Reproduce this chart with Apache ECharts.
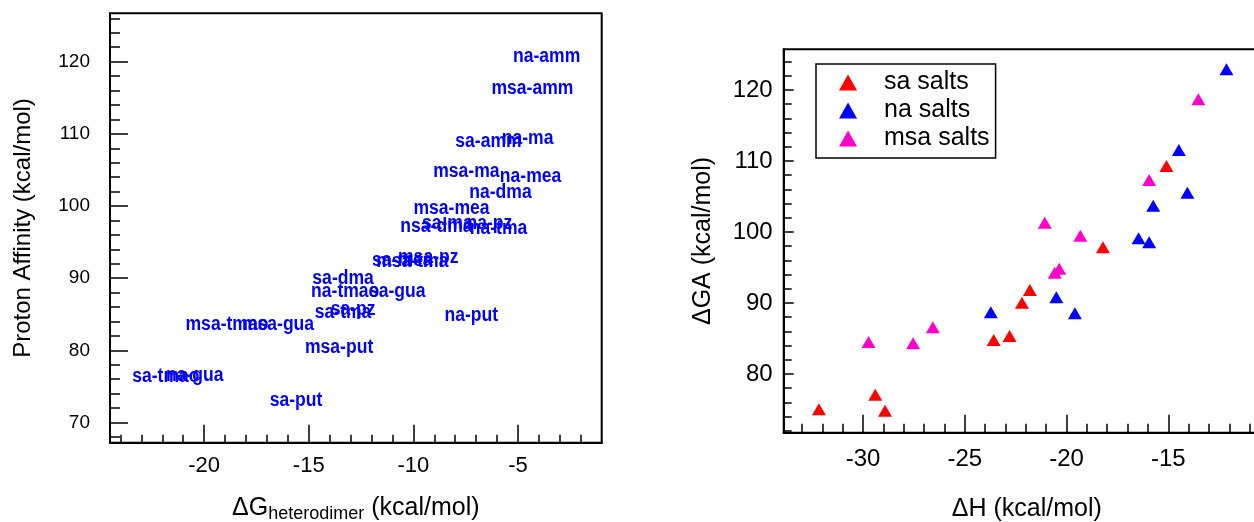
<!DOCTYPE html>
<html>
<head>
<meta charset="utf-8">
<script src="https://cdn.jsdelivr.net/npm/echarts@6/dist/echarts.min.js"></script>
<style>
  body { margin: 0; background: #fff; }
  #main { width: 1254px; height: 522px; }
</style>
</head>
<body>
<div id="main"></div>
<script>
// left panel: proton affinity vs heterodimer formation free energy (text labels only)
var leftNames = ['na-amm', 'msa-amm', 'sa-amm', 'na-ma', 'msa-ma', 'na-mea', 'na-dma', 'msa-mea',
  'nsa-dma', 'sa-ma', 'na-pz', 'na-tma', 'msa-pz', 'sa-mea', 'msa-tma', 'sa-dma', 'na-tmao',
  'sa-gua', 'sa-pz', 'sa-tma', 'na-put', 'msa-tmao', 'msa-gua', 'msa-put', 'sa-tmao', 'na-gua', 'sa-put'];
var leftX = [-3.63, -4.31, -6.41, -4.54, -7.47, -4.40, -5.84, -8.18,
  -8.90, -8.38, -6.37, -5.93, -9.29, -10.53, -10.05, -13.36, -13.26,
  -10.77, -12.88, -13.36, -7.23, -18.91, -16.47, -13.55, -21.83, -20.45, -15.61];
var leftY = [120.65, 116.22, 108.88, 109.29, 104.72, 104.03, 101.81, 99.6,
  97.1, 97.52, 97.52, 96.83, 92.81, 92.4, 92.26, 89.9, 88.1,
  88.1, 85.61, 85.19, 84.78, 83.53, 83.53, 80.35, 76.33, 76.47, 73.0];

var leftXTicks = [-20, -15, -10, -5];
var leftXMinor = [-24, -23, -22, -21, -19, -18, -17, -16, -14, -13, -12, -11, -9, -8, -7, -6, -4, -3, -2];
var leftYTicks = [70, 80, 90, 100, 110, 120];
var leftYMinor = [68, 72, 74, 76, 78, 82, 84, 86, 88, 92, 94, 96, 98, 102, 104, 106, 108, 112, 114, 116, 118, 122, 124, 126];

// right panel: dGA vs dH
var saX = [-32.17, -29.40, -28.92, -23.58, -22.80, -22.19, -21.80, -18.21, -15.09];
var saY = [75.03, 77.08, 74.83, 84.79, 85.35, 90.04, 91.83, 97.85, 109.3];
var naX = [-23.72, -20.50, -19.59, -16.46, -15.94, -15.74, -14.48, -14.06, -12.14];
var naY = [88.69, 90.80, 88.55, 99.11, 98.55, 103.70, 111.55, 105.54, 122.92];
var msaX = [-29.73, -27.54, -26.57, -21.07, -20.58, -20.36, -19.32, -15.94, -13.52];
var msaY = [84.51, 84.32, 86.58, 101.31, 94.27, 94.83, 99.48, 107.32, 118.69];

var rightXTicks = [-30, -25, -20, -15];
var rightXMinor = [-33, -32, -31, -29, -28, -27, -26, -24, -23, -22, -21, -19, -18, -17, -16, -14, -13, -12, -11];
var rightYTicks = [80, 90, 100, 110, 120];
var rightYMinor = [72, 74, 76, 78, 82, 84, 86, 88, 92, 94, 96, 98, 102, 104, 106, 108, 112, 114, 116, 118, 122, 124];

var font = "'Liberation Sans', Arial, Helvetica, sans-serif";

function pairs(xs, ys) {
  return xs.map(function (x, i) { return [x, ys[i]]; });
}

// main axis (line, labels, long ticks) + a bare axis carrying the short ticks, both on the same side
function axisPair(grid, side, min, max, major, minor, majorLen, minorLen, labelSize, labelMargin, extra) {
  var main = {
    type: 'value', gridIndex: grid, position: side, min: min, max: max,
    axisLine: { show: true, onZero: false, lineStyle: { color: '#000', width: 2 } },
    axisTick: { show: true, inside: true, length: majorLen, customValues: major, lineStyle: { color: '#000', width: 1.5 } },
    axisLabel: { customValues: major, color: '#000', fontSize: labelSize, fontFamily: font, margin: labelMargin },
    splitLine: { show: false }
  };
  for (var k in extra) main[k] = extra[k];
  var sub = {
    type: 'value', gridIndex: grid, position: side, min: min, max: max,
    axisLine: { show: false, onZero: false },
    axisTick: { show: true, inside: true, length: minorLen, customValues: minor, lineStyle: { color: '#000', width: 1.5 } },
    axisLabel: { show: false },
    splitLine: { show: false }
  };
  return [main, sub];
}

var lx = axisPair(0, 'bottom', -24.5, -1, leftXTicks, leftXMinor, 18, 8, 22, 12, {
  name: '{a|ΔG}{b|heterodimer}{a| (kcal/mol)}',
  nameLocation: 'middle', nameGap: 50,
  nameTextStyle: { rich: {
    a: { fontSize: 25, fontFamily: font, color: '#000' },
    b: { fontSize: 18, fontFamily: font, color: '#000', padding: [12, 0, 0, 0] }
  } }
});
var ly = axisPair(0, 'left', 67.2, 126.7, leftYTicks, leftYMinor, 18, 10, 19, 20, {
  name: 'Proton Affinity (kcal/mol)',
  nameLocation: 'middle', nameGap: 75,
  nameTextStyle: { fontSize: 24, fontFamily: font, color: '#000' }
});
var rx = axisPair(1, 'bottom', -33.9, -10, rightXTicks, rightXMinor, 18, 9, 24, 15, {
  name: 'ΔH (kcal/mol)',
  nameLocation: 'middle', nameGap: 64,
  nameTextStyle: { fontSize: 25, fontFamily: font, color: '#000' }
});
var ry = axisPair(1, 'left', 71.73, 125.73, rightYTicks, rightYMinor, 10, 8, 24, 11, {
  name: 'ΔGA (kcal/mol)',
  nameLocation: 'middle', nameGap: 68,
  nameTextStyle: { fontSize: 25, fontFamily: font, color: '#000' }
});

function tri(name, color, xs, ys) {
  return {
    name: name, type: 'scatter', xAxisIndex: 2, yAxisIndex: 2,
    symbol: 'triangle', symbolSize: [14, 12],
    itemStyle: { color: color, opacity: 1 }, data: pairs(xs, ys)
  };
}

var chart = echarts.init(document.getElementById('main'));
chart.setOption({
  animation: false,
  grid: [
    { left: 110, top: 13.3, width: 491.7, height: 429.4, outerBoundsMode: 'none',
      show: true, borderColor: '#000', borderWidth: 2 },
    // right panel runs past the image edge, so its right border is not seen
    { left: 783.7, top: 49.3, right: -16, bottom: 89.3, outerBoundsMode: 'none',
      show: true, borderColor: '#000', borderWidth: 2 }
  ],
  legend: {
    left: 816, top: 64, orient: 'vertical',
    icon: 'triangle', itemWidth: 18, itemHeight: 16, itemGap: 3,
    padding: [6, 6, 7, 23],
    borderColor: '#000', borderWidth: 1.5,
    itemStyle: { opacity: 1 },
    textStyle: { fontSize: 25, fontFamily: font, color: '#000', padding: [0, 0, 0, 22] },
    data: ['sa salts', 'na salts', 'msa salts']
  },
  xAxis: lx.concat(rx),
  yAxis: ly.concat(ry),
  series: [
    {
      type: 'custom', xAxisIndex: 0, yAxisIndex: 0,
      data: pairs(leftX, leftY),
      renderItem: function (params, api) {
        var p = api.coord([api.value(0), api.value(1)]);
        return {
          type: 'text', x: p[0], y: p[1], scaleX: 0.9,
          style: {
            text: leftNames[params.dataIndex], fill: '#0000ff',
            fontSize: 19.5, fontWeight: 'bold', fontFamily: font,
            align: 'center', verticalAlign: 'middle'
          }
        };
      }
    },
    tri('sa salts', '#ff0000', saX, saY),
    tri('na salts', '#0000ff', naX, naY),
    tri('msa salts', '#ff00cc', msaX, msaY)
  ]
});
</script>
</body>
</html>
